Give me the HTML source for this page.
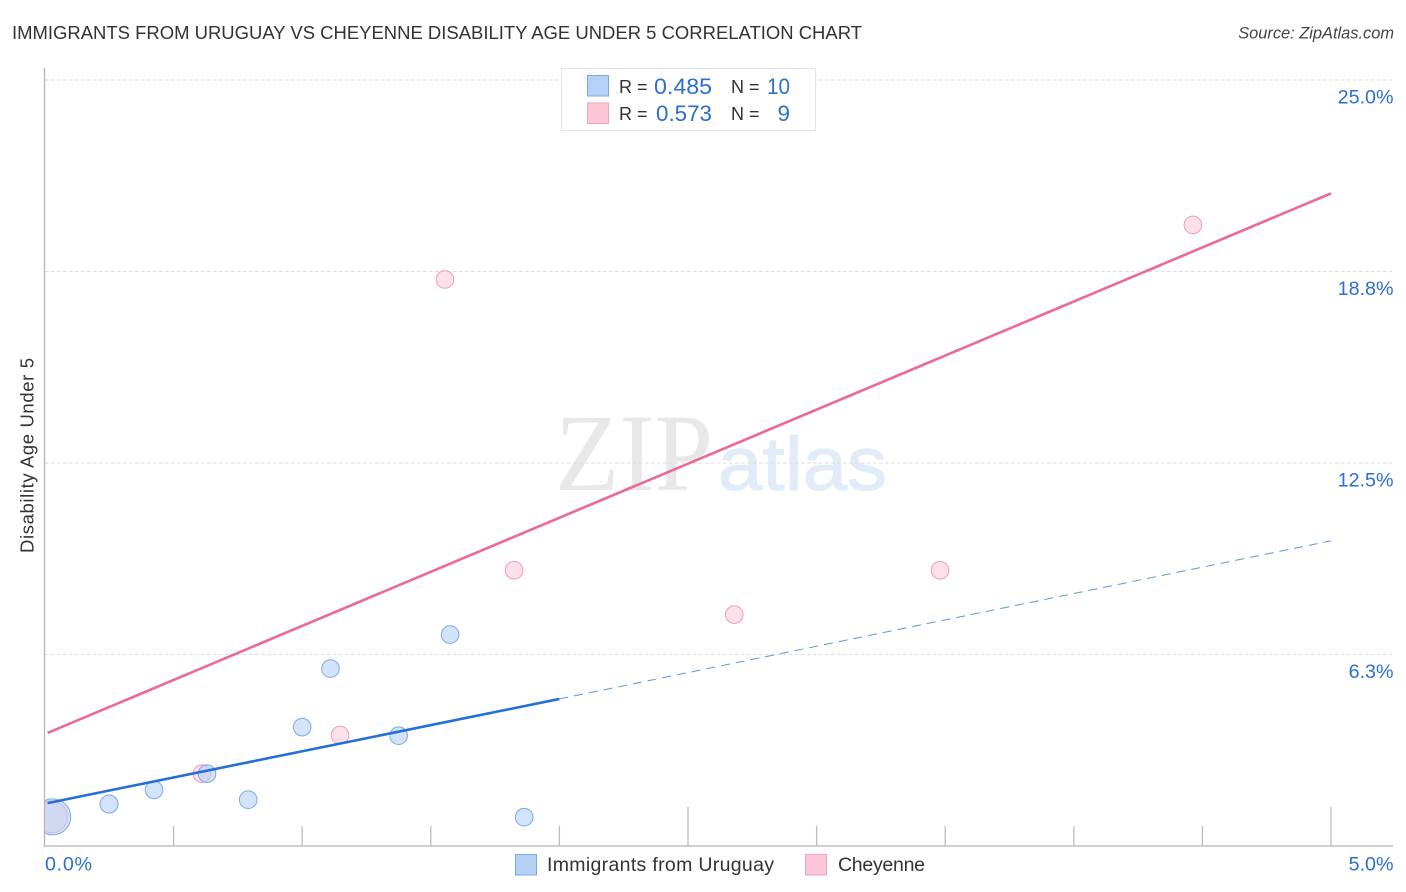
<!DOCTYPE html>
<html>
<head>
<meta charset="utf-8">
<title>Immigrants from Uruguay vs Cheyenne Disability Age Under 5 Correlation Chart</title>
<style>
html,body{margin:0;padding:0;background:#fff;width:1406px;height:892px;overflow:hidden}
svg{display:block}
text{font-family:"Liberation Sans",sans-serif}
</style>
</head>
<body>
<svg id="chart" width="1406" height="892" viewBox="0 0 1406 892" xmlns="http://www.w3.org/2000/svg">
  <text x="12" y="39" font-size="18.6" fill="#333" textLength="850" lengthAdjust="spacingAndGlyphs">IMMIGRANTS FROM URUGUAY VS CHEYENNE DISABILITY AGE UNDER 5 CORRELATION CHART</text>
  <text x="1394" y="38.5" font-size="16.4" font-style="italic" fill="#444" text-anchor="end">Source: ZipAtlas.com</text>

  <g>
    <text x="555" y="490" style="font-family:'Liberation Serif',serif" font-size="110" fill="#e8e8e8" textLength="158" lengthAdjust="spacingAndGlyphs">ZIP</text>
    <text x="718" y="490" font-size="76" fill="#e2ebf8" stroke="#e2ebf8" stroke-width="1" textLength="169" lengthAdjust="spacingAndGlyphs">atlas</text>
  </g>

  <g id="grid"></g>
  <g id="axes"></g>
  <svg x="45" y="0" width="1349" height="846" viewBox="45 0 1349 846">
    <g id="points"></g>
  </svg>
  <g id="trends"></g>
  <g id="ticklabels"></g>

  <text transform="translate(33.5,455.5) rotate(-90)" font-size="18.5" fill="#333" text-anchor="middle" textLength="195">Disability Age Under 5</text>

  <g>
    <rect x="561.5" y="68.5" width="254" height="62" fill="#fff" fill-opacity="0.85" stroke="#e3e3e3" stroke-width="1"/>
    <rect x="587.5" y="75.5" width="21" height="20.5" fill="#a9caf4" fill-opacity="0.85" stroke="#7aa9e4" stroke-width="1"/>
    <rect x="587.5" y="103" width="21" height="20.5" fill="#fcc6d7" stroke="#f0a5bd" stroke-width="1"/>
    <text x="619" y="93" font-size="18" fill="#333">R =</text>
    <text x="654" y="94" font-size="22.5" fill="#2b6fd0" textLength="58" lengthAdjust="spacingAndGlyphs">0.485</text>
    <text x="731" y="93" font-size="18" fill="#333">N =</text>
    <text x="767" y="94" font-size="22.5" fill="#2b6fd0" textLength="23" lengthAdjust="spacingAndGlyphs">10</text>
    <text x="619" y="120" font-size="18" fill="#333">R =</text>
    <text x="656" y="121" font-size="22.5" fill="#2b6fd0" textLength="56" lengthAdjust="spacingAndGlyphs">0.573</text>
    <text x="731" y="120" font-size="18" fill="#333">N =</text>
    <text x="790" y="121" font-size="22.5" fill="#2b6fd0" text-anchor="end">9</text>
  </g>

  <g>
    <g>
      <rect x="515.5" y="854.5" width="21" height="20.5" fill="#b5d2f6" stroke="#7aa9e4" stroke-width="1"/>
      <text x="547" y="871" font-size="19.5" fill="#333" textLength="227">Immigrants from Uruguay</text>
    </g>
    <g>
      <rect x="805.5" y="854.5" width="21" height="20.5" fill="#fcc6d7" stroke="#f0a5bd" stroke-width="1"/>
      <text x="838" y="871" font-size="19.5" fill="#333" textLength="87">Cheyenne</text>
    </g>
  </g>
</svg>
<script>
const uruguayX = [0.03, 0.249, 0.424, 0.63, 0.79, 1.0, 1.11, 1.375, 1.575, 1.863];
const uruguayY = [0.95, 1.37, 1.83, 2.36, 1.51, 3.88, 5.79, 3.6, 6.9, 0.94];
const uruguaySize = [18, 9, 8.8, 8.8, 8.8, 8.8, 8.8, 8.8, 8.8, 8.8];
const cheyenneX = [0.025, 0.61, 1.147, 1.555, 1.824, 2.13, 2.68, 3.48, 4.463];
const cheyenneY = [0.95, 2.36, 3.62, 18.49, 9.0, 24.97, 7.55, 9.0, 20.27];
const cheyenneSize = [16, 8.8, 8.8, 8.8, 8.8, 8.8, 8.8, 8.8, 8.8];
const uruguayTrendX = [0.01, 2.0];
const uruguayTrendY = [1.4, 4.8];
const uruguayDashX = [2.0, 5.0];
const uruguayDashY = [4.8, 9.96];
const cheyenneTrendX = [0.01, 5.0];
const cheyenneTrendY = [3.69, 21.3];
const yTickValues = [6.25, 12.5, 18.75, 25];
const yTickLabels = ['6.3%', '12.5%', '18.8%', '25.0%'];
const xTickValues = [0.5, 1, 1.5, 2, 2.5, 3, 3.5, 4, 4.5, 5];
const xTickMajor = [0, 0, 0, 0, 1, 0, 0, 0, 0, 1];
const xEndLabels = ['0.0%', '5.0%'];

const NS = 'http://www.w3.org/2000/svg';
const xScale = v => 45 + v / 5 * 1286;
const yScale = v => 846 - v / 25 * 766;
const make = (parent, tag, props) => {
  const el = document.createElementNS(NS, tag);
  for (const k in props) el.setAttribute(k, props[k]);
  document.getElementById(parent).appendChild(el);
  return el;
};

yTickValues.forEach((v, i) => {
  const g = make('grid', 'line', {x1: 45, x2: 1393, y1: yScale(v), y2: yScale(v), stroke: '#dddddd', 'stroke-width': 1, 'stroke-dasharray': '3.5 2.5'});
  
  
  const t = make('ticklabels', 'text', {x: 1393.5, y: yScale(v) + 23.5, 'font-size': 19.7, fill: '#2b6fd0', 'text-anchor': 'end'});
  t.textContent = yTickLabels[i];
  
  
});

const yAxis = make('axes', 'line', {x1: 44.5, x2: 44.5, y1: 68, y2: 846.5, stroke: '#b4b4b4', 'stroke-width': 1.3});


const xAxis = make('axes', 'line', {x1: 44, x2: 1393, y1: 846, y2: 846, stroke: '#b4b4b4', 'stroke-width': 1.3});



xTickValues.forEach((v, i) => {
  const tick = make('axes', 'line', {x1: xScale(v), x2: xScale(v), y1: xTickMajor[i] ? 807 : 826, y2: 846, stroke: '#bdbdbd', 'stroke-width': 1.3});
  
  
});

const xLabelLeft = make('ticklabels', 'text', {x: 45, y: 870.5, 'font-size': 19.7, fill: '#2b6fd0', textLength: 47});
xLabelLeft.textContent = xEndLabels[0];


const xLabelRight = make('ticklabels', 'text', {x: 1393.5, y: 870.5, 'font-size': 19.7, fill: '#2b6fd0', 'text-anchor': 'end'});
xLabelRight.textContent = xEndLabels[1];



cheyenneX.forEach((v, i) => {
  const c = make('points', 'circle', {cx: xScale(v), cy: yScale(cheyenneY[i]), r: cheyenneSize[i], fill: '#fbc4d6', 'fill-opacity': 0.5, stroke: '#ee9db8', 'stroke-width': 1});
  
  
});
uruguayX.forEach((v, i) => {
  const c = make('points', 'circle', {cx: xScale(v), cy: yScale(uruguayY[i]), r: uruguaySize[i], fill: '#b5d2f6', 'fill-opacity': 0.6, stroke: '#7aa9e4', 'stroke-width': 1});
  
  
});

const dash = make('trends', 'line', {x1: xScale(uruguayDashX[0]), y1: yScale(uruguayDashY[0]), x2: xScale(uruguayDashX[1]), y2: yScale(uruguayDashY[1]), stroke: '#5f95da', 'stroke-width': 1, 'stroke-dasharray': '9 6'});


const blue = make('trends', 'line', {x1: xScale(uruguayTrendX[0]), y1: yScale(uruguayTrendY[0]), x2: xScale(uruguayTrendX[1]), y2: yScale(uruguayTrendY[1]), stroke: '#2470d8', 'stroke-width': 2.6});


const pink = make('trends', 'line', {x1: xScale(cheyenneTrendX[0]), y1: yScale(cheyenneTrendY[0]), x2: xScale(cheyenneTrendX[1]), y2: yScale(cheyenneTrendY[1]), stroke: '#ea6a94', 'stroke-width': 2.6});


</script>
</body>
</html>
